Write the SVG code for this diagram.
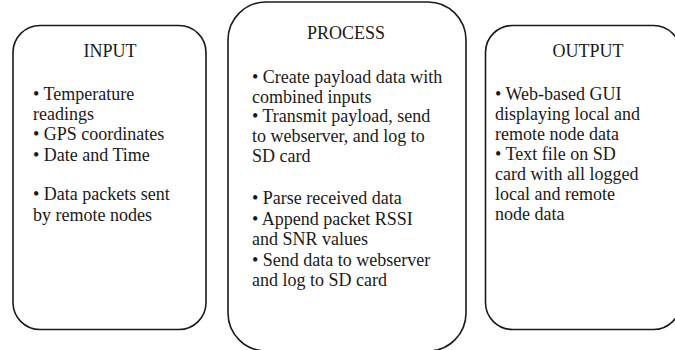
<svg xmlns="http://www.w3.org/2000/svg" width="675" height="350" viewBox="0 0 675 350">
<style>
.box{fill:#fff;stroke:#1a1a1a;stroke-width:1.6}
.t{font-family:"Liberation Serif","Times New Roman",serif;font-size:18px;fill:#1a1a1a}
.h{text-anchor:middle}
</style>
<rect width="675" height="350" fill="#fff"/>
<g id="connectors"></g>
<g id="input">
<rect class="box" x="13" y="25.5" width="193" height="304" rx="27" ry="27"/>
<text class="t h" x="110" y="57">INPUT</text>
<text class="t" x="33" y="100">• Temperature</text>
<text class="t" x="33" y="120">readings</text>
<text class="t" x="33" y="140">• GPS coordinates</text>
<text class="t" x="33" y="160.5">• Date and Time</text>
<text class="t" x="33" y="200">• Data packets sent</text>
<text class="t" x="33" y="221">by remote nodes</text>
</g>
<g id="process">
<rect class="box" x="228" y="2" width="238" height="349" rx="38" ry="38"/>
<text class="t h" x="346" y="38.5">PROCESS</text>
<text class="t" x="252" y="83">• Create payload data with</text>
<text class="t" x="252" y="102.5">combined inputs</text>
<text class="t" x="252" y="122">• Transmit  payload, send</text>
<text class="t" x="252" y="142">to webserver, and log to</text>
<text class="t" x="252" y="161.5">SD card</text>
<text class="t" x="252" y="204">• Parse received data</text>
<text class="t" x="252" y="224.5">• Append packet RSSI</text>
<text class="t" x="252" y="245">and SNR values</text>
<text class="t" x="252" y="265.5">• Send data to webserver</text>
<text class="t" x="252" y="286">and log to SD card</text>
</g>
<g id="output">
<rect class="box" x="485.5" y="25.5" width="195" height="304" rx="27" ry="27"/>
<text class="t h" x="588" y="57">OUTPUT</text>
<text class="t" x="495" y="100">• Web-based GUI</text>
<text class="t" x="495" y="120">displaying local and</text>
<text class="t" x="495" y="140">remote node data</text>
<text class="t" x="495" y="160">• Text file on SD</text>
<text class="t" x="495" y="180">card with all logged</text>
<text class="t" x="495" y="200">local and remote</text>
<text class="t" x="495" y="220">node data</text>
</g>
</svg>
